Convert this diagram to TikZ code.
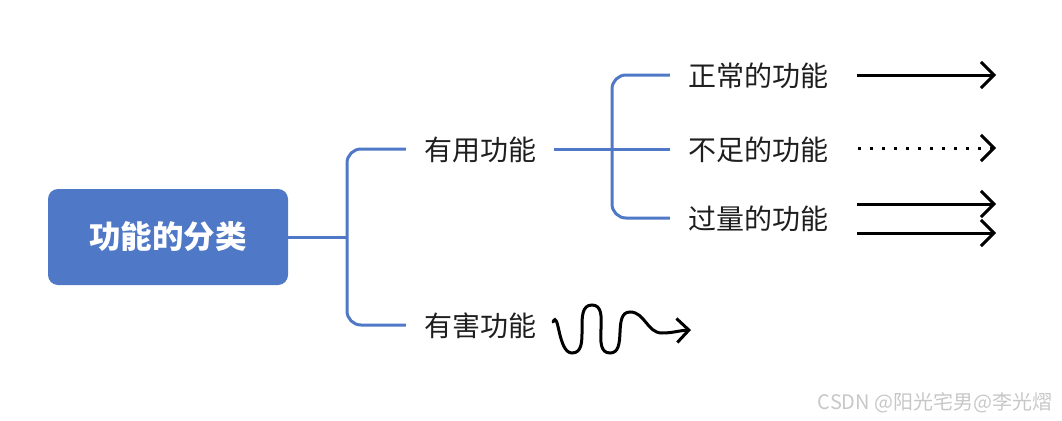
\documentclass[tikz,border=0pt]{standalone}
\usepackage{fontspec}
\setmainfont{Noto Sans CJK SC}
\usepackage{xcolor}
\usepackage{tikz}
\usetikzlibrary{arrows.meta,positioning}

\definecolor{mapblue}{HTML}{4F78C6}
\definecolor{inkgray}{HTML}{1E1E1E}

\begin{document}
\begin{tikzpicture}[
    x=1pt, y=-1pt,
    root/.style={rectangle, rounded corners=10pt, fill=mapblue, minimum width=240pt, minimum height=96pt, align=center, text=white, font=\fontsize{31.5}{36}\selectfont\bfseries},
    topic/.style={rectangle, inner xsep=18pt, inner ysep=0pt, text height=24pt, text depth=2pt, text=inkgray, font=\fontsize{28}{32}\selectfont},
    branch/.style={draw=mapblue, line width=3pt, rounded corners=14pt},
    flow/.style={draw=black, line width=3pt, -{Straight Barb[length=13pt,width=26pt]}}
]
    \useasboundingbox (0,0) rectangle (1062,420);

    % Root
    \node[root] (root) at (168,237) {功能的分类};

    % First level
    \node[topic] (useful) at (480,149) {有用功能};
    \node[topic] (harmful) at (480,325) {有害功能};

    % Second level
    \node[topic] (normal) at (758,75) {正常的功能};
    \node[topic] (lack) at (758,149) {不足的功能};
    \node[topic] (excess) at (758,218) {过量的功能};

    % Branch points
    \coordinate (split) at (347,237);
    \coordinate (split2) at (612,149);

    % Branches
    \draw[branch] (root.east) -- (split);
    \draw[branch] (useful.west) -| (split) |- (harmful.west);
    \draw[branch] (useful.east) -- (lack.west);
    \draw[branch] (normal.west) -| (split2) |- (excess.west);

    % Arrow ends
    \coordinate (n1) at (857,75);  \coordinate (n2) at (996,75);
    \coordinate (l1) at (858,148); \coordinate (l2) at (996,148);
    \coordinate (e1) at (857,204); \coordinate (e2) at (996,204);
    \coordinate (e3) at (857,233); \coordinate (e4) at (996,233);
    \coordinate (h1) at (553,322); \coordinate (h2) at (691,330);

    % Arrows
    \draw[flow] (n1) -- (n2);
    \draw[flow, dash pattern=on 3pt off 9pt] (l1) -- (l2);
    \draw[flow] (e1) -- (e2);
    \draw[flow] (e3) -- (e4);
    \draw[flow, -{Straight Barb[length=12pt,width=24pt]}, line cap=round] (h1) to[out=65,in=180] (572,353)
        to[out=0,in=180] (592,305) to[out=0,in=180] (610,353)
        to[out=0,in=180] (630,312) to[out=0,in=180] (662,333) to[out=0,in=182] (h2);

    % Watermark
    \node[text=black!22, font=\fontsize{20}{22}\selectfont, anchor=east] (mark) at (1056,403) {CSDN @阳光宅男@李光熠};
\end{tikzpicture}
\end{document}
